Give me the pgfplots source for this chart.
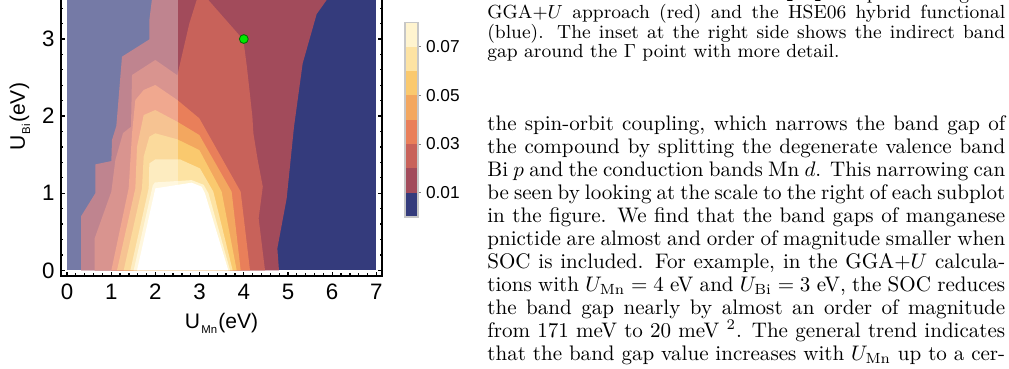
\documentclass[border=0pt]{standalone}
\usepackage{fontspec}
\usepackage{pgfplots}
\pgfplotsset{compat=1.18}
\newfontfamily\plotfont{Liberation Sans}

% contour level colours (band gap in eV)
\definecolor{lv0}{HTML}{343B7C}
\definecolor{lv1}{HTML}{A24B5B}
\definecolor{lv2}{HTML}{C8625A}
\definecolor{lv3}{HTML}{E97F5A}
\definecolor{lv4}{HTML}{F3A75F}
\definecolor{lv5}{HTML}{FAC96E}
\definecolor{lv6}{HTML}{FDE3A3}
\definecolor{lv7}{HTML}{FFF4CF}
\definecolor{ptgreen}{RGB}{0,232,0}

\newcommand\jl[1]{\hbox to \hsize{#1}}
\newcommand\sub[1]{\kern0.6pt\raisebox{-2.4pt}{\fontsize{5.4}{6}\selectfont #1}\kern0.6pt}

\begin{document}
\begin{tikzpicture}
\useasboundingbox (0,0) rectangle (479.275pt,174.8pt);
\clip (0,0) rectangle (479.275pt,174.8pt);

% ---- band gap map over (U_Mn, U_Bi) ----
\begin{axis}[
  at={(28.975pt,43.9375pt)}, anchor=south west,
  scale only axis, width=152.475pt, height=150.79pt,
  xmin=-0.136, xmax=7.127, ymin=-0.067, ymax=4.05,
  axis on top,
  xtick={0,1,2,3,4,5,6,7}, ytick={0,1,2,3,4},
  minor x tick num=4, minor y tick num=4,
  tick align=inside, tick pos=both,
  major tick length=1.9pt, minor tick length=1.1pt,
  every tick/.style={black, line width=0.6pt},
  axis line style={line width=0.95pt},
  /pgf/number format/assume math mode=true,
  tick label style={font=\plotfont\fontsize{10.6}{12}\selectfont},
  xticklabel style={anchor=north, inner sep=0pt, yshift=-3.7pt},
  yticklabel style={anchor=east, inner sep=0pt, xshift=-2.85pt},
  xlabel={U\sub{Mn}(eV)},
  ylabel={U\sub{Bi}(eV)},
  label style={font=\plotfont\fontsize{10}{11}\selectfont},
  xlabel style={at={([yshift=-25.08pt]axis description cs:0.5,0)}, anchor=base},
  ylabel style={at={([xshift=-17.1pt]axis description cs:0,0.5)}, anchor=base},
]
% below 0.01
\addplot[fill=lv0, draw=none] coordinates {(0,0) (7,0) (7,4) (0,4)};
% >= 0.01
\addplot[fill=lv1, draw=none] coordinates {
 (0.317,0) (0.317,0.70) (0.641,1.0) (0.641,1.374) (1.003,1.417) (1.018,1.69)
 (1.116,1.872) (1.244,2.771) (1.863,2.995) (1.863,3.246) (1.92,3.506) (1.95,4)
 (6.3,4) (5.875,3.506) (5.649,3.324) (5.332,2.684) (5.136,1.862) (4.97,0.933)
 (4.759,0.285) (4.796,0)};
% >= 0.02
\addplot[fill=lv2, draw=none] coordinates {
 (0.626,0) (0.626,0.415) (1.003,1.02) (1.094,1.43) (1.267,1.78) (1.448,1.862)
 (1.471,2.533) (1.998,2.728) (2.496,2.53) (2.767,3.20) (2.934,3.506) (3.003,3.633)
 (3.198,3.506) (3.99,2.99) (4.07,2.64) (4.195,1.99) (4.217,1.777) (4.315,1.43)
 (4.43,1.085) (4.336,0.674) (4.48,0)};
% >= 0.03
\addplot[fill=lv3, draw=none] coordinates {
 (1.003,0) (1.395,1.063) (1.471,1.777) (1.546,2.209) (1.735,2.339) (1.998,2.404)
 (2.496,2.209) (2.994,1.971) (3.929,1.02) (4.14,0)};
% >= 0.04
\addplot[fill=lv4, draw=none] coordinates {
 (1.131,0) (1.546,1.063) (1.584,1.604) (1.735,2.014) (1.998,2.079) (2.496,1.927)
 (2.994,1.755) (3.725,1.02) (3.929,0)};
% >= 0.05
\addplot[fill=lv5, draw=none] coordinates {
 (1.282,0) (1.697,1.063) (1.735,1.474) (1.863,1.733) (1.998,1.777) (2.496,1.699)
 (2.994,1.56) (3.499,1.02) (3.839,0)};
% >= 0.06
\addplot[fill=lv6, draw=none] coordinates {
 (1.433,0) (1.848,1.063) (1.863,1.387) (1.998,1.439) (2.557,1.439) (3.009,1.322)
 (3.311,1.02) (3.748,0)};
% >= 0.07
\addplot[fill=lv7, draw=none] coordinates {
 (1.508,0) (1.94,1.10) (1.99,1.14) (2.82,1.17) (3.09,1.11) (3.2,1.0) (3.69,0)};
% >= 0.08
\addplot[fill=white, draw=none] coordinates {
 (1.584,0) (1.998,1.063) (2.82,1.137) (3.047,1.085) (3.122,0.998) (3.65,0)};
% shaded strip U_Mn < 2.5 eV
\addplot[fill=white, fill opacity=0.32, draw=none] coordinates {(0,0) (2.5,0) (2.5,4) (0,4)};
% selected parameters
\addplot[only marks, mark=*, mark size=2.1pt,
  mark options={fill=ptgreen, draw=black!55!green, line width=0.4pt}] coordinates {(4,3)};
\end{axis}

% ---- colour scale ----
\begin{axis}[
  at={(192.375pt,71.725pt)}, anchor=south west,
  scale only axis, width=6.175pt, height=92.48pt,
  xmin=0, xmax=1, ymin=0, ymax=0.08,
  xtick=\empty, ytick={0.01,0.03,0.05,0.07},
  scaled y ticks=false,
  ytick pos=right, yticklabel pos=right,
  tick align=outside, major tick length=1.2pt,
  every tick/.style={gray, line width=0.4pt},
  axis line style={black!22, line width=0.5pt},
  axis on top,
  /pgf/number format/assume math mode=true,
  /pgf/number format/fixed, /pgf/number format/fixed zerofill,
  /pgf/number format/precision=2,
  yticklabel style={font=\plotfont\fontsize{8.2}{10}\selectfont, anchor=west, inner sep=0pt, xshift=2.4pt},
]
\addplot[fill=lv0, draw=none] coordinates {(0,0) (1,0) (1,0.01) (0,0.01)};
\addplot[fill=lv1, draw=none] coordinates {(0,0.01) (1,0.01) (1,0.02) (0,0.02)};
\addplot[fill=lv2, draw=none] coordinates {(0,0.02) (1,0.02) (1,0.03) (0,0.03)};
\addplot[fill=lv3, draw=none] coordinates {(0,0.03) (1,0.03) (1,0.04) (0,0.04)};
\addplot[fill=lv4, draw=none] coordinates {(0,0.04) (1,0.04) (1,0.05) (0,0.05)};
\addplot[fill=lv5, draw=none] coordinates {(0,0.05) (1,0.05) (1,0.06) (0,0.06)};
\addplot[fill=lv6, draw=none] coordinates {(0,0.06) (1,0.06) (1,0.07) (0,0.07)};
\addplot[fill=lv7, draw=none] coordinates {(0,0.07) (1,0.07) (1,0.08) (0,0.08)};
\end{axis}

% ---- caption ----
\node[anchor=base west, inner sep=0pt] at (231.3pt,175.04pt) {\fontsize{9}{9.26}\selectfont\lineskiplimit=-10pt\vtop{\hsize=246pt
\jl{FIG. 3. Band structure of BaMn$_2$Bi$_2$ computed using the}
\jl{GGA$+U$ approach (red) and the HSE06 hybrid functional}
\jl{(blue). The inset at the right side shows the indirect band}
\hbox{gap around the $\Gamma$ point with more detail.}}};

% ---- body text ----
\node[anchor=base west, inner sep=0pt] at (231.3pt,112.8pt) {\fontsize{10}{10.925}\selectfont\lineskiplimit=-10pt\vtop{\hsize=246pt
\jl{the spin-orbit coupling, which narrows the band gap of}
\jl{the compound by splitting the degenerate valence band}
\jl{Bi $p$ and the conduction bands Mn $d$. This narrowing can}
\jl{be seen by looking at the scale to the right of each subplot}
\jl{in the figure. We find that the band gaps of manganese}
\jl{pnictide are almost and order of magnitude smaller when}
\jl{SOC is included. For example, in the GGA$+U$ calcula-}
\jl{tions with $U_{\mathrm{Mn}}=4$~eV and $U_{\mathrm{Bi}}=3$~eV, the SOC reduces}
\jl{the band gap nearly by almost an order of magnitude}
\jl{from 171~meV to 20~meV~$^2$. The general trend indicates}
\jl{that the band gap value increases with $U_{\mathrm{Mn}}$ up to a cer-}}};
\end{tikzpicture}
\end{document}
